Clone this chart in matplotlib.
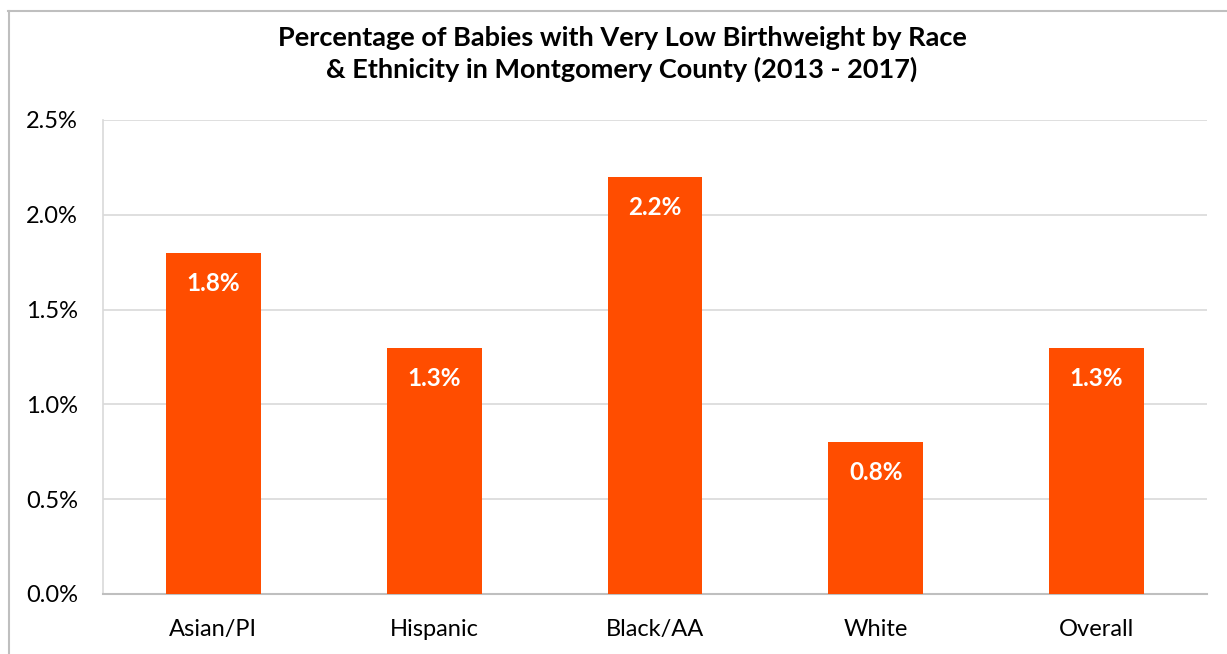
import matplotlib
matplotlib.use('Agg')
import matplotlib.pyplot as plt
from matplotlib.lines import Line2D
from matplotlib.ticker import FuncFormatter

# Data
categories = ['Asian/PI', 'Hispanic', 'Black/AA', 'White', 'Overall']
percent_low_birthweight = [1.8, 1.3, 2.2, 0.8, 1.3]
y_ticks = [0.0, 0.5, 1.0, 1.5, 2.0, 2.5]

title = ('Percentage of Babies with Very Low Birthweight by Race\n'
         '& Ethnicity in Montgomery County (2013 - 2017)')

BAR_COLOR = '#FF4D00'
GRID_COLOR = '#D9D9D9'
TICK_FONT_SIZE = 17
TITLE_FONT_SIZE = 19.5

plt.rcParams['font.family'] = ['Lato', 'DejaVu Sans']

fig = plt.figure(figsize=(12.27, 6.54), dpi=100)
ax = fig.add_axes([103 / 1227, 1 - 594 / 654, 1104 / 1227, 474 / 654])

x = list(range(len(categories)))
bars = ax.bar(x, percent_low_birthweight, width=0.43, color=BAR_COLOR, zorder=3)

# Value labels inside the top of each bar
for rect, val in zip(bars, percent_low_birthweight):
    ax.annotate(f'{val:.1f}%', xy=(rect.get_x() + rect.get_width() / 2, rect.get_height()),
                xytext=(0, -22), textcoords='offset points', ha='center', va='center',
                color='white', fontweight='bold', fontsize=17.5, zorder=4)

ax.set_xlim(-0.5, len(categories) - 0.5)
ax.set_ylim(0, 2.5)
ax.set_yticks(y_ticks)
ax.yaxis.set_major_formatter(FuncFormatter(lambda v, _: f'{v:.1f}%'))
ax.set_xticks(x)
ax.set_xticklabels(categories)

# Horizontal grid lines
ax.yaxis.grid(True, color=GRID_COLOR, linewidth=1.2, zorder=0)
ax.set_axisbelow(True)

# Spines: left + bottom in gray, no top/right
ax.spines['top'].set_visible(False)
ax.spines['right'].set_visible(False)
ax.spines['left'].set_color(GRID_COLOR)
ax.spines['left'].set_linewidth(1.2)
ax.spines['bottom'].set_color('#BFBFBF')
ax.spines['bottom'].set_linewidth(1.5)

ax.tick_params(axis='both', length=0, labelsize=TICK_FONT_SIZE, colors='black')
ax.tick_params(axis='x', pad=18)
ax.tick_params(axis='y', pad=18)

fig.text(622 / 1227, 1 - 54 / 654, title, ha='center', va='center',
         fontsize=TITLE_FONT_SIZE, fontweight='bold', linespacing=1.3)

# Chart-area border (only left and top fall inside the image)
fig.add_artist(Line2D([8.5 / 1227, 8.5 / 1227], [0, 1 - 11 / 654], color='#BFBFBF', linewidth=1.5,
                      transform=fig.transFigure))
fig.add_artist(Line2D([8 / 1227, 1], [1 - 11 / 654, 1 - 11 / 654], color='#BFBFBF', linewidth=1.5,
                      transform=fig.transFigure))

fig.savefig('out.png', dpi=100)
